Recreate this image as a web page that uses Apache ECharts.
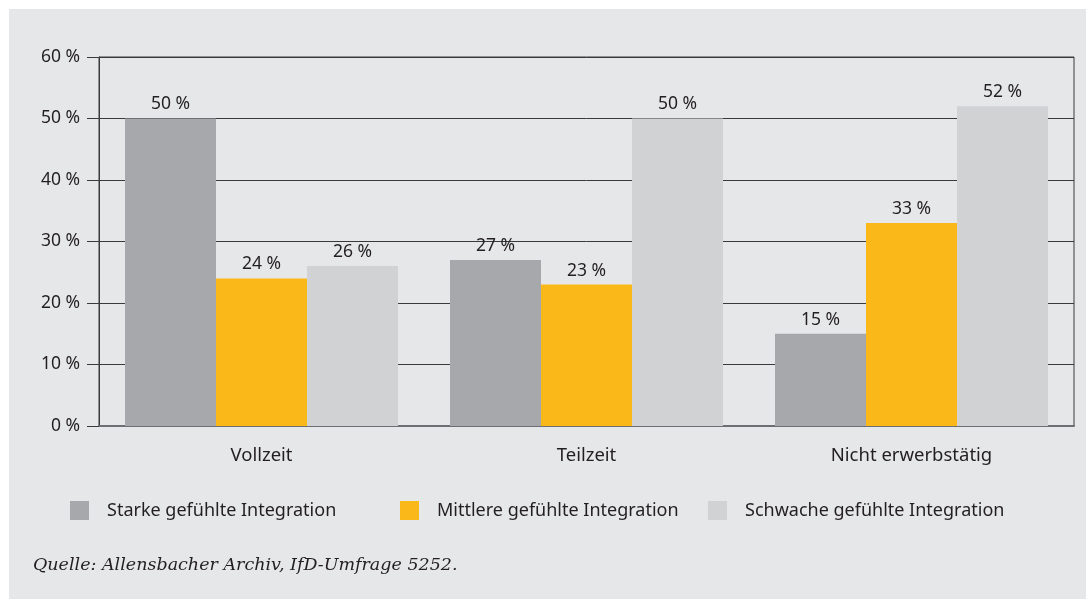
<!DOCTYPE html>
<html>
<head>
<meta charset="utf-8">
<script src="https://cdn.jsdelivr.net/npm/echarts@6/dist/echarts.min.js"></script>
<style>
	html, body { margin: 0; padding: 0; background: #ffffff; }
	#main { position: absolute; left: 9px; top: 9px; width: 1077px; height: 590px; background: #e6e7e9; }
</style>
</head>
<body>
<div id="main"></div>
<script>
	// Kategorien und Werte (Prozent)
	var categories = ['Vollzeit', 'Teilzeit', 'Nicht erwerbstätig'];
	var seriesNames = ['Starke gefühlte Integration', 'Mittlere gefühlte Integration', 'Schwache gefühlte Integration'];
	var starke = [50, 27, 15];
	var mittlere = [24, 23, 33];
	var schwache = [26, 50, 52];
	var yTicks = [0, 10, 20, 30, 40, 50, 60];

	var colors = ['#a7a8ab', '#fbb919', '#d1d2d4'];
	var textColor = '#231f20';
	var font = '"Noto Sans", "Open Sans", sans-serif';

	var myChart = echarts.init(document.getElementById('main'));

	var labelStyle = {
		show: true,
		position: 'top',
		distance: 5,
		color: textColor,
		fontFamily: font,
		fontSize: 17.5,
		formatter: function (p) {
			return p.value + '\u00a0%';
		}
	};

	function legendAt(name, left) {
		return {
			data: [name],
			left: left,
			top: 487,
			itemWidth: 19,
			itemHeight: 19,
			icon: 'rect',
			textStyle: {
				color: textColor,
				fontFamily: font,
				fontSize: 18,
				padding: [0, 0, 0, 13]
			}
		};
	}

	var option = {
		animation: false,
		legend: [
			legendAt(seriesNames[0], 56),
			legendAt(seriesNames[1], 386),
			legendAt(seriesNames[2], 694)
		],
		grid: {
			left: 90,
			right: 12,
			top: 48,
			bottom: 173,
			show: true,
			borderColor: '#3a3a3c',
			borderWidth: 1,
			backgroundColor: 'transparent'
		},
		xAxis: {
			type: 'category',
			data: categories,
			axisLine: { lineStyle: { color: '#6d6e71', width: 2 } },
			axisTick: { length: 15, lineStyle: { color: '#3a3a3c', width: 1 } },
			axisLabel: {
				color: textColor,
				fontFamily: font,
				fontSize: 18.5,
				margin: 20
			}
		},
		yAxis: {
			type: 'value',
			min: yTicks[0],
			max: yTicks[yTicks.length - 1],
			interval: 10,
			axisLine: { show: true, lineStyle: { color: '#3a3a3c', width: 1 } },
			axisTick: { show: true, length: 12, lineStyle: { color: '#3a3a3c' } },
			splitLine: { lineStyle: { color: '#3a3a3c', width: 1 } },
			axisLabel: {
				color: textColor,
				fontFamily: font,
				fontSize: 17.5,
				margin: 19,
				formatter: function (v) { return v + '\u00a0%'; }
			}
		},
		series: [
			{
				name: seriesNames[0],
				type: 'bar',
				data: starke,
				color: colors[0],
				barGap: '0%',
				barCategoryGap: '16%',
				label: labelStyle
			},
			{
				name: seriesNames[1],
				type: 'bar',
				data: mittlere,
				color: colors[1],
				barGap: '0%',
				barCategoryGap: '16%',
				label: labelStyle
			},
			{
				name: seriesNames[2],
				type: 'bar',
				data: schwache,
				color: colors[2],
				barGap: '0%',
				barCategoryGap: '16%',
				label: labelStyle
			}
		],
		graphic: [{
			type: 'text',
			left: 24,
			top: 547,
			style: {
				text: 'Quelle: Allensbacher Archiv, IfD-Umfrage 5252.',
				fill: textColor,
				font: 'italic 17.5px "DejaVu Serif", serif'
			}
		}]
	};

	option && myChart.setOption(option);
</script>
</body>
</html>
